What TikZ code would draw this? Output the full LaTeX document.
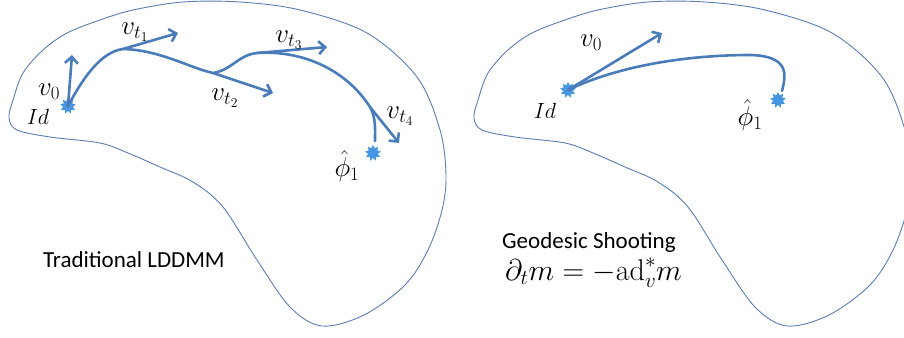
\RequirePackage{fix-cm}
\documentclass[tikz,border=0pt]{standalone}
\usepackage{fontspec}
\newfontfamily\calib{Carlito}
\usetikzlibrary{arrows.meta,shapes.geometric}
\definecolor{arrblue}{RGB}{74,124,186}
\definecolor{starblue}{RGB}{70,150,225}
\definecolor{outl}{RGB}{90,125,178}
\tikzset{
  arr/.style={draw=arrblue,line width=2.6pt,line cap=round,-{Straight Barb[length=6.5pt,width=13pt]}},
  path/.style={draw=arrblue,line width=2.6pt,line cap=round},
  burst/.style={star,star points=9,star point ratio=1.6,minimum size=16pt,inner sep=0pt,fill=starblue,draw=none},
  lab/.style={inner sep=0pt,font=\fontsize{27}{30}\selectfont},
  idlab/.style={inner sep=0pt,font=\fontsize{22}{26}\selectfont},
  txt/.style={inner sep=0pt,font=\calib\fontsize{23}{27}\selectfont},
  blob/.style={draw=outl,line width=0.9pt}
}
\begin{document}
\begin{tikzpicture}[x=1pt,y=-1pt]
\useasboundingbox (0,0) rectangle (904,337);
\clip (0,0) rectangle (904,337);
% outlines
\foreach \dx in {0,465}{
\draw[blob,xshift=\dx] plot[smooth cycle,tension=0.55] coordinates {
(9,118) (13,100) (23,73) (43,50) (67,33) (100,20) (133,10) (183,2) (240,2) (300,10) (367,33) (417,77) (440,130) (446,175) (442,210) (428,250) (405,285) (364,315) (322,326) (290,307) (257,260) (223,207) (193,182) (160,167) (128,153) (100,143) (50,137) (17,130)};
}
% ---------- left figure
\node[burst] (id1) at (68,106) {};
\node[burst] (phi1) at (373,153) {};
\coordinate (v0t) at (72,55);
\coordinate (p1) at (123,49);
\coordinate (p2) at (213,73);
\coordinate (p3) at (257,53);
\coordinate (p4) at (370,107);
\coordinate (pe) at (375,141);
\coordinate (t1) at (178,33);
\coordinate (t2) at (273,93);
\coordinate (t3) at (327,47);
\coordinate (t4) at (399,143);
\draw[path] (id1.center) .. controls (82,80) and (100,52) .. (p1)
  .. controls (160,50) and (190,68) .. (p2)
  .. controls (232,70) and (238,55) .. (p3)
  .. controls (300,50) and (345,68) .. (p4)
  .. controls (376,118) and (375,128) .. (pe);
\draw[arr] (id1.center) -- (v0t);
\draw[arr] (p1) -- (t1);
\draw[arr] (p2) -- (t2);
\draw[arr] (p3) -- (t3);
\draw[arr] (p4) -- (t4);
\node[lab] (lv0) at (49,92) {$v_0$};
\node[idlab] (lid1) at (38,117) {$Id$};
\node[lab] (lt1) at (135,32) {$v_{t_1}$};
\node[lab] (lt2) at (225,98) {$v_{t_2}$};
\node[lab] (lt3) at (289,40) {$v_{t_3}$};
\node[lab] (lt4) at (400,116) {$v_{t_4}$};
\node[lab] (lphi1) at (347,166) {$\hat{\phi}_1$};
\node[txt,anchor=base west] (trad) at (43,267) {Traditional LDDMM};
% ---------- right figure
\node[burst] (id2) at (568,90) {};
\node[burst] (phi2) at (778,100) {};
\coordinate (w0) at (662,33);
\coordinate (q1) at (750,55);
\coordinate (qe) at (782,91);
\draw[path] (id2.center) .. controls (620,65) and (690,55) .. (q1)
  .. controls (790,56) and (786,75) .. (qe);
\draw[arr] (id2.center) -- (w0);
\node[lab] (lw0) at (591,43) {$v_0$};
\node[idlab] (lid2) at (545,111) {$Id$};
\node[lab] (lphi2) at (750,115) {$\hat{\phi}_1$};
\node[txt,anchor=base west] (geo) at (502,248) {Geodesic Shooting};
\node[inner sep=0pt,anchor=base west,font=\fontsize{30}{34}\selectfont] (eq) at (505,280) {$\partial_t m = -\mathrm{ad}_v^{*} m$};
\end{tikzpicture}
\end{document}
